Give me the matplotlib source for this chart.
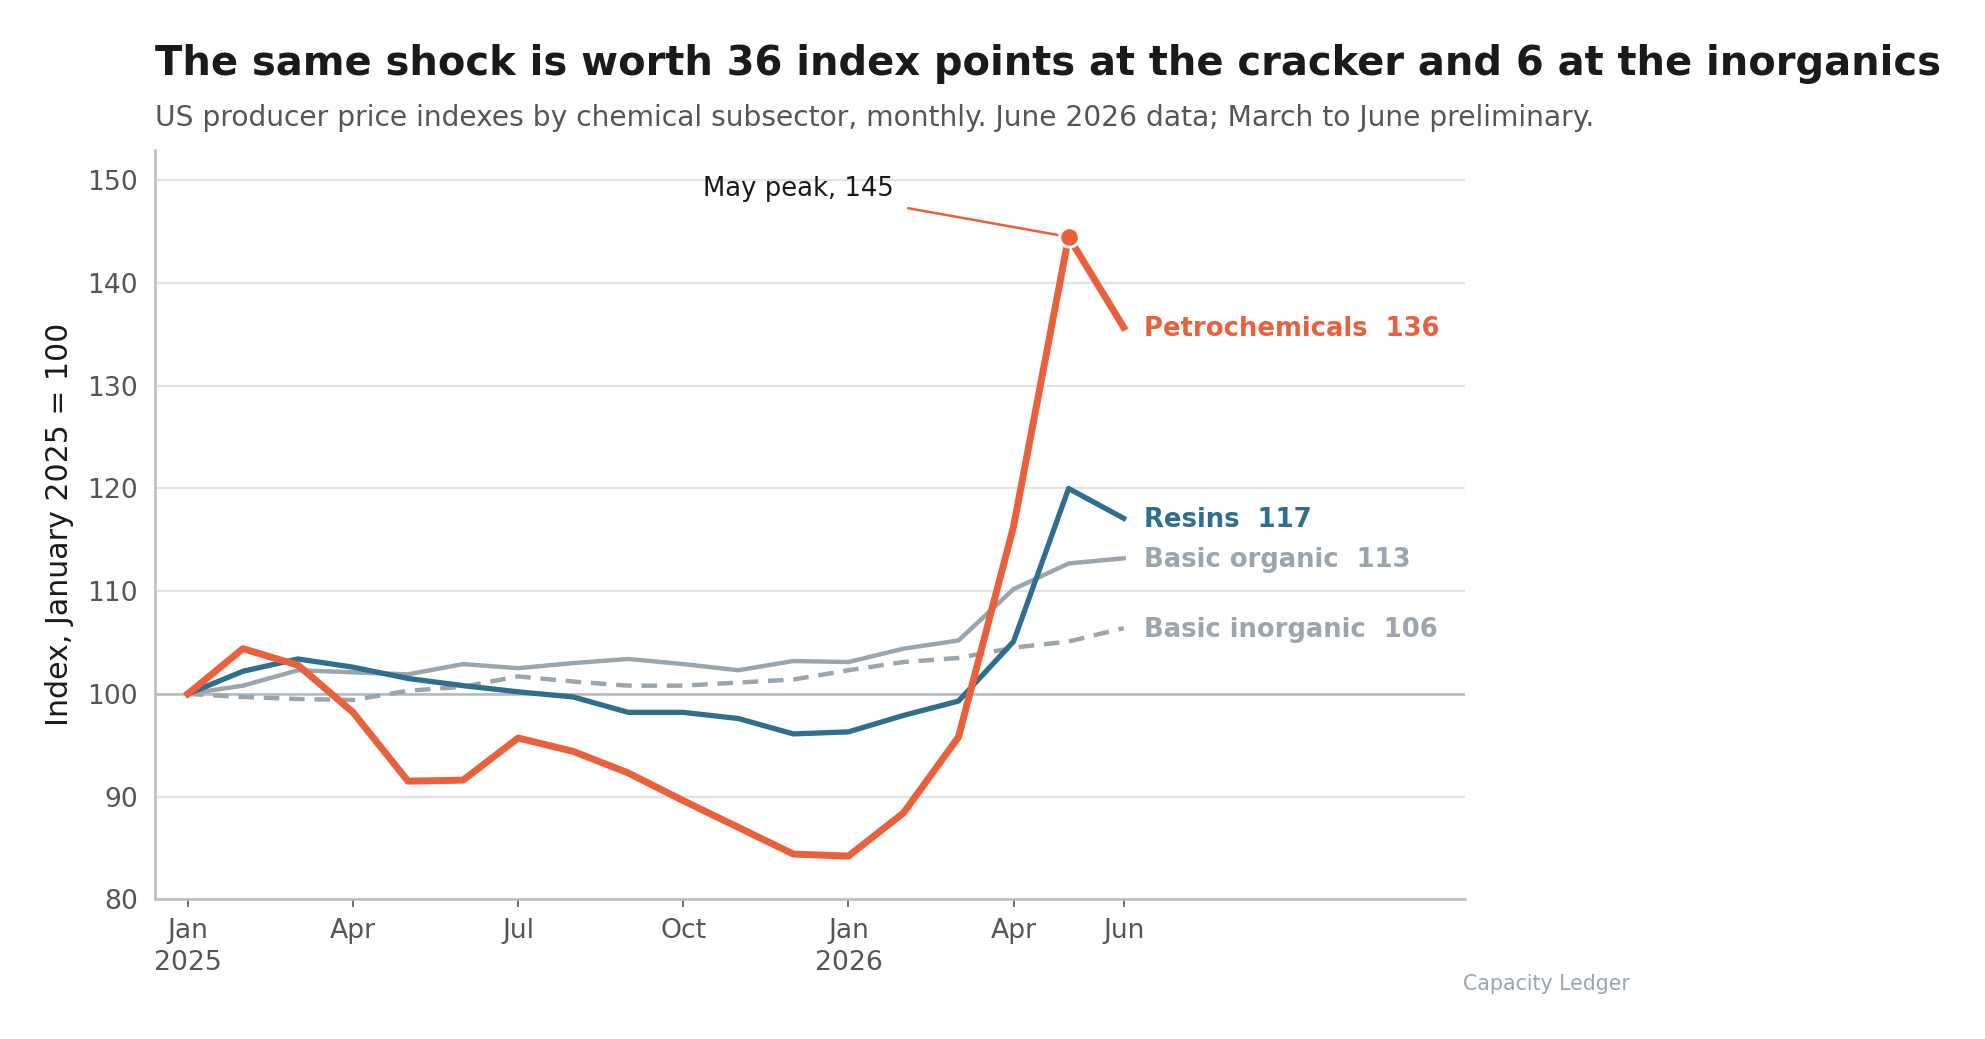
import matplotlib
matplotlib.use("Agg")
import matplotlib.pyplot as plt

# ---------------------------------------------------------------------
# Data (index, January 2025 = 100), Jan 2025 .. Jun 2026
# ---------------------------------------------------------------------
months = list(range(18))
petrochemicals = [100.0, 104.4, 102.8, 98.2, 91.5, 91.6, 95.7, 94.4, 92.3, 89.6,
                  87.0, 84.4, 84.2, 88.4, 95.8, 116.3, 144.5, 135.7]
resins = [100.0, 102.2, 103.4, 102.6, 101.5, 100.8, 100.2, 99.7, 98.2, 98.2,
          97.6, 96.1, 96.3, 97.9, 99.3, 105.1, 120.0, 117.1]
basic_organic = [100.0, 100.8, 102.3, 102.1, 101.9, 102.9, 102.5, 103.0, 103.4, 102.9,
                 102.3, 103.2, 103.1, 104.4, 105.2, 110.2, 112.7, 113.2]
basic_inorganic = [100.0, 99.7, 99.5, 99.4, 100.3, 100.7, 101.7, 101.2, 100.8, 100.8,
                   101.1, 101.4, 102.3, 103.1, 103.5, 104.5, 105.1, 106.4]

tick_pos = [0, 3, 6, 9, 12, 15, 17]
tick_labels = ["Jan\n2025", "Apr", "Jul", "Oct", "Jan\n2026", "Apr", "Jun"]

ORANGE = "#e8603c"
BLUE = "#2e6e8e"
GREY = "#9aa5ae"

fig = plt.figure(figsize=(9.925, 5.195), dpi=200)
ax = fig.add_axes([0.078, 0.1345, 0.660, 0.7215])

ax.plot(months, basic_inorganic, color=GREY, lw=1.6, ls=(0, (3.5, 2.2)), zorder=3)
ax.plot(months, basic_organic, color=GREY, lw=1.6, zorder=3)
ax.plot(months, resins, color=BLUE, lw=1.9, zorder=4)
ax.plot(months, petrochemicals, color=ORANGE, lw=2.5, zorder=5)

# peak marker + note
peak_i = petrochemicals.index(max(petrochemicals))
ax.plot(months[peak_i], petrochemicals[peak_i], "o", color=ORANGE, ms=7,
        mec="white", mew=1.0, zorder=6)
ax.annotate("May peak, 145", xy=(months[peak_i], petrochemicals[peak_i]),
            xytext=(months[peak_i] - 4.9, 149.2), fontsize=9.3, color="#1a1a1a",
            ha="center", va="center",
            arrowprops=dict(arrowstyle="-", color=ORANGE, lw=0.9,
                            shrinkA=3, shrinkB=4))

# end labels
labels = [
    ("Petrochemicals  136", petrochemicals[-1], ORANGE),
    ("Resins  117", resins[-1], BLUE),
    ("Basic organic  113", basic_organic[-1], GREY),
    ("Basic inorganic  106", basic_inorganic[-1], GREY),
]
for txt, yv, col in labels:
    ax.annotate(txt, xy=(months[-1], yv), xytext=(7.3, -0.5), textcoords="offset points",
                fontsize=9.3, fontweight="bold", color=col, va="center", ha="left")

ax.set_xlim(-0.6, 23.2)
ax.set_ylim(80, 153)
ax.set_yticks([80, 90, 100, 110, 120, 130, 140, 150])
ax.set_xticks(tick_pos)
ax.set_xticklabels(tick_labels, linespacing=1.3)

ax.grid(axis="y", color="#e3e3e3", lw=0.8, zorder=0)
ax.axhline(100, color="#b3b9bf", lw=0.9, zorder=1)
ax.set_axisbelow(True)

for s in ["top", "right"]:
    ax.spines[s].set_visible(False)
for s in ["left", "bottom"]:
    ax.spines[s].set_color("#b8bec6")
    ax.spines[s].set_linewidth(0.9)

ax.tick_params(axis="y", length=0, labelsize=9.6, labelcolor="#555555", pad=6)
ax.tick_params(axis="x", length=3, width=0.6, color="#555555", labelsize=9.6,
               labelcolor="#555555", pad=3.8)

ax.set_ylabel("Index, January 2025 = 100", fontsize=10.8, color="#1a1a1a", labelpad=5)

fig.text(0.078, 0.928, "The same shock is worth 36 index points at the cracker and 6 at the inorganics",
         fontsize=14.42, fontweight="bold", color="#1a1a1a", ha="left", va="baseline")
fig.text(0.078, 0.879, "US producer price indexes by chemical subsector, monthly. June 2026 data; March to June preliminary.",
         fontsize=10.14, color="#555555", ha="left", va="baseline")
fig.text(0.821, 0.047, "Capacity Ledger", fontsize=7.4, color=GREY, ha="right", va="baseline")

fig.savefig("out.png", dpi=200)
